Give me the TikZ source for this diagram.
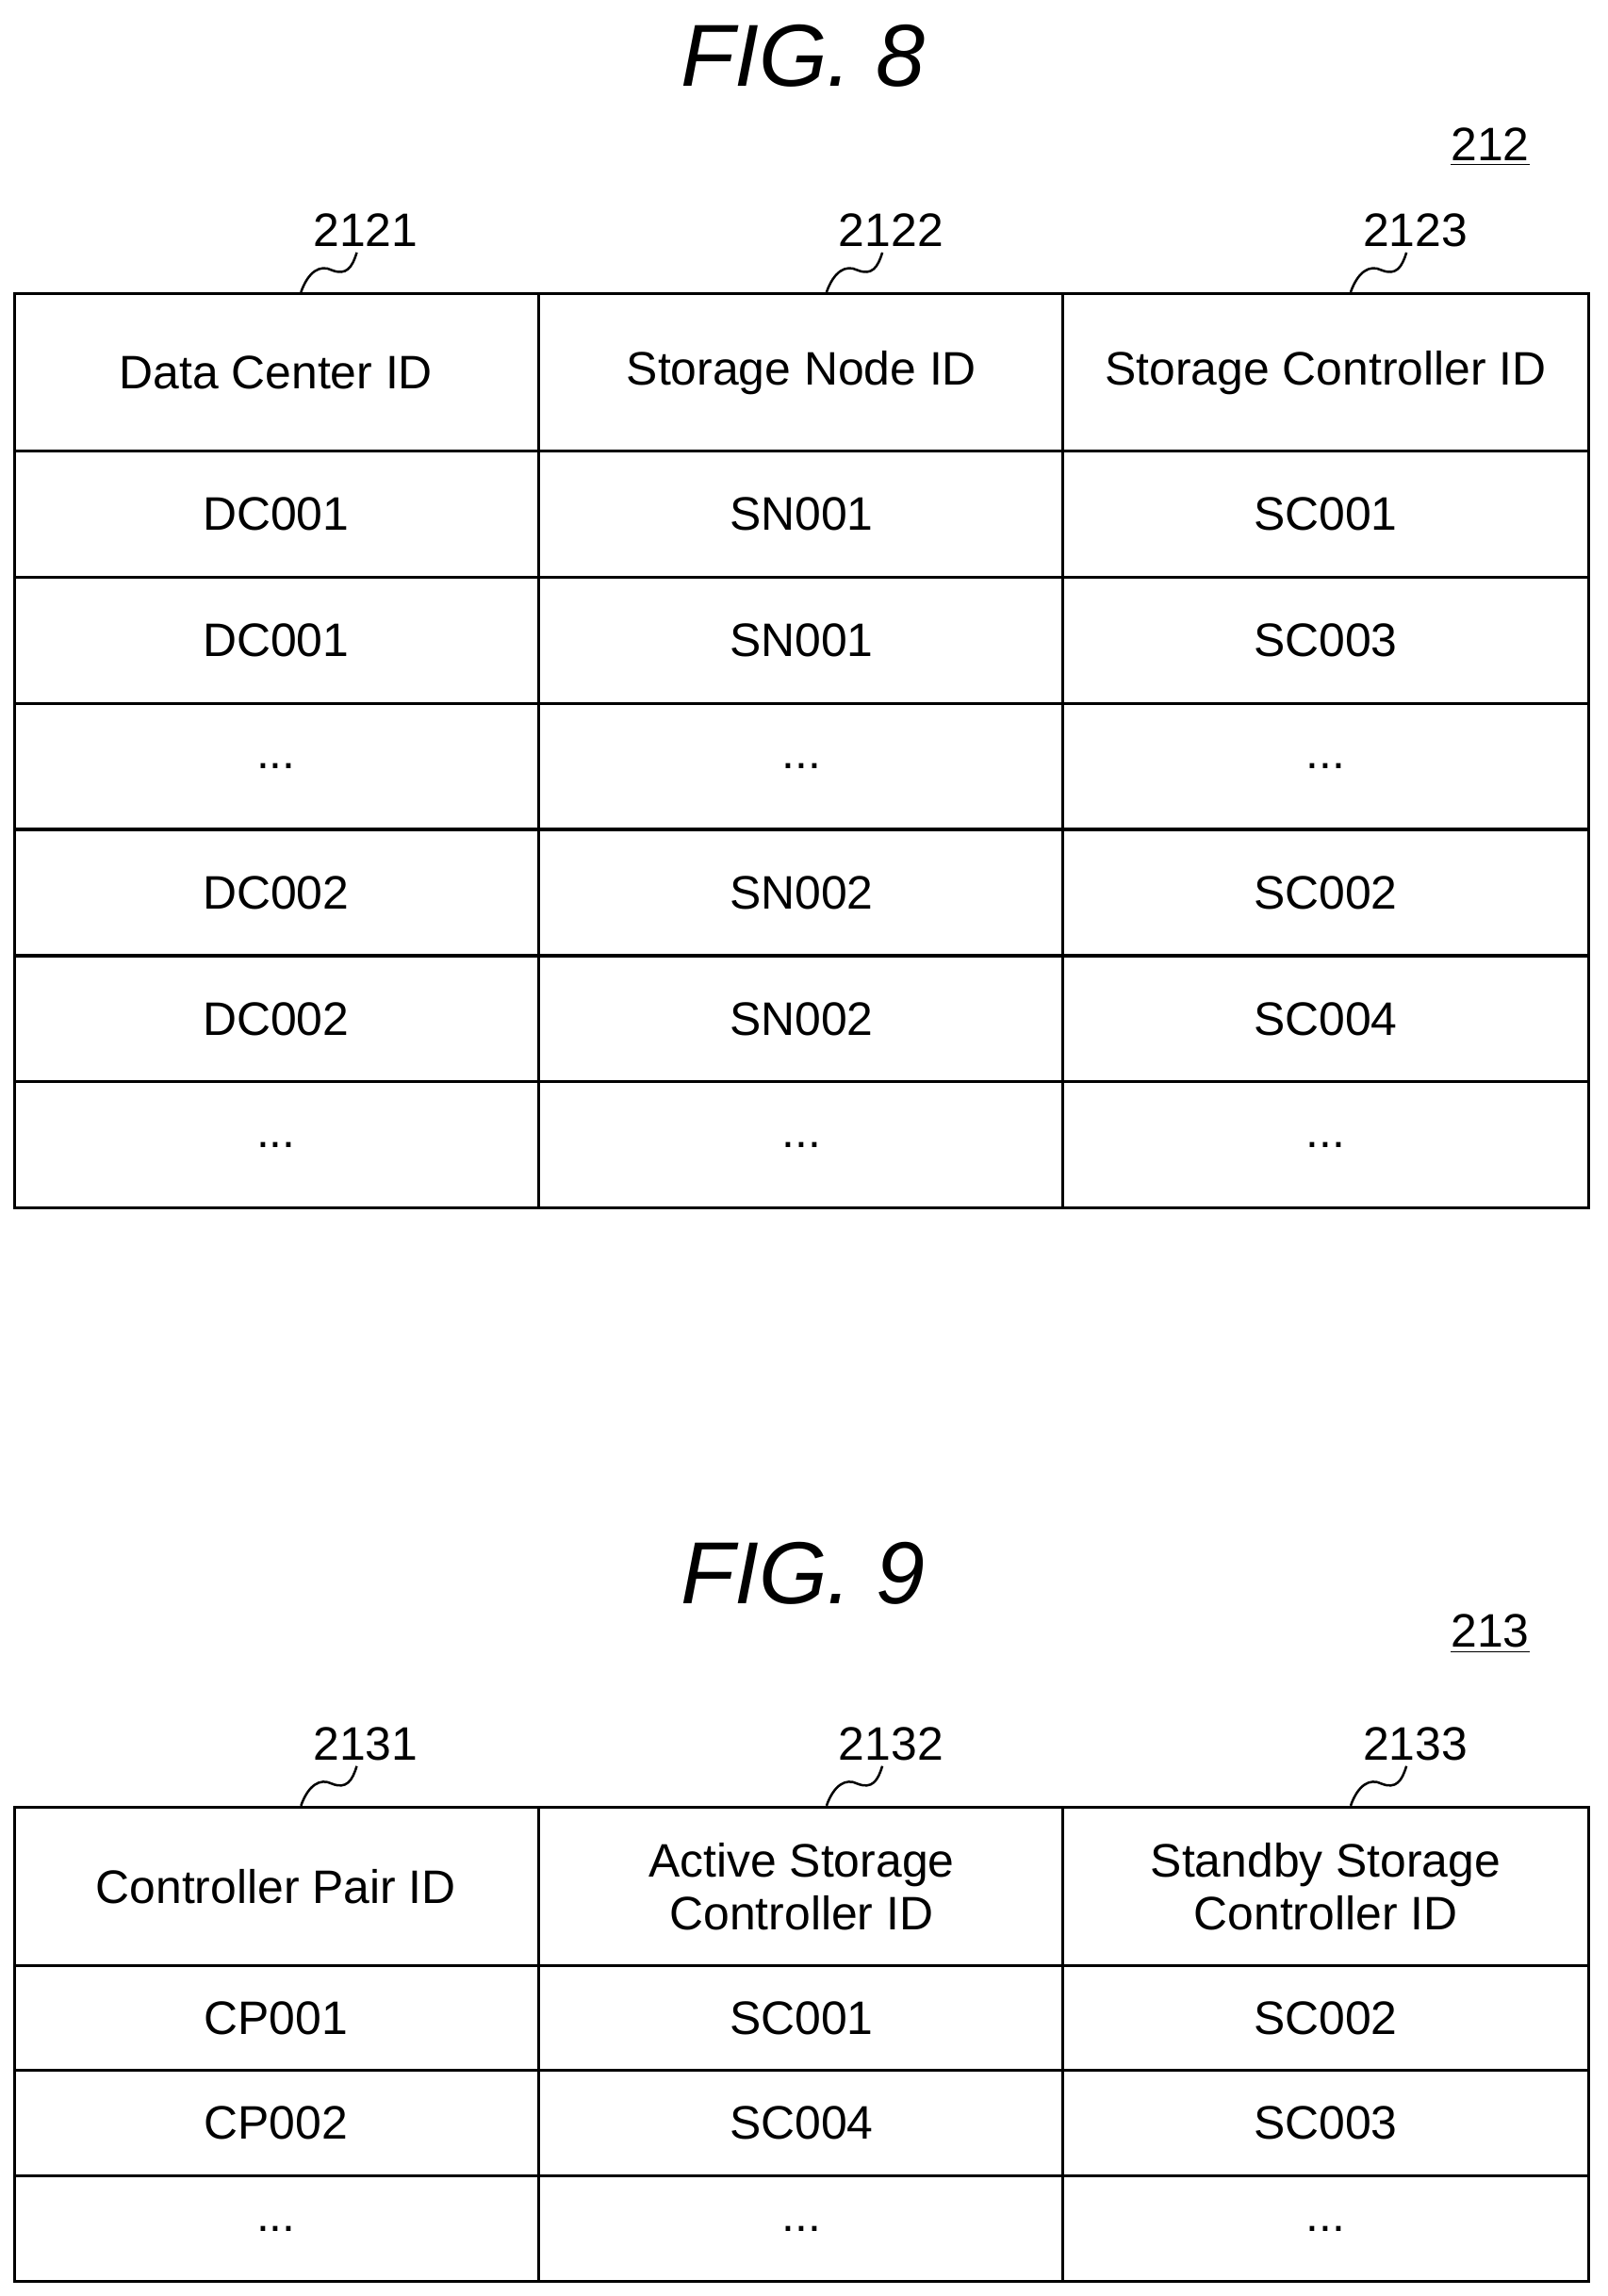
\documentclass[tikz,border=0pt]{standalone}
\usepackage{fontspec}
\setmainfont{Liberation Sans}
\newcommand\myell{...}
\begin{document}
\begin{tikzpicture}[x=0.5pt,y=-0.5pt,
  grid/.style={line width=1pt},
  cell/.style={font=\fontsize{16}{18}\selectfont,align=center,inner sep=0pt},
  ref/.style={font=\fontsize{16}{18}\selectfont,inner sep=0pt},
  fig/.style={font=\fontsize{30}{34}\selectfont\itshape,inner sep=0pt},
  sq/.style={line width=0.8pt}]
\useasboundingbox (0,0) rectangle (1095,1564);
% FIG 8
\node[fig] (f8) at (547,38) {FIG. 8};
\node[ref] (r212) at (1015,100) {\underline{212}};
\draw[grid] (10,200) rectangle (1082,823);
\foreach \x in {367,724} \draw[grid] (\x,200) -- (\x,823);
\foreach \y in {307,393,479,565,651,737} \draw[grid] (10,\y) -- (1082,\y);
\foreach \cx/\lab/\n in {188/2121/a,546/2122/b,903/2123/c}{
  \node[ref] (l\n) at (\cx+61,157) {\lab};
  \coordinate (s\n) at (\cx+17,199);
  \draw[sq] (s\n) .. controls (\cx+22,185) and (\cx+30,180) .. (\cx+38,184) .. controls (\cx+48,188) and (\cx+52,182) .. (\cx+55,172);
}
\node[cell] at (188,254) {Data Center ID};
\node[cell] at (546,254) {Storage Node ID};
\node[cell] at (903,254) {Storage Controller ID};
\foreach \y/\a/\b/\c in {350/DC001/SN001/SC001,436/DC001/SN001/SC003,522/\myell/\myell/\myell,608/DC002/SN002/SC002,694/DC002/SN002/SC004,780/\myell/\myell/\myell}{
  \node[cell] at (188,\y) {\a};
  \node[cell] at (546,\y) {\b};
  \node[cell] at (903,\y) {\c};
}
% FIG 9
\node[fig] (f9) at (547,1072) {FIG. 9};
\node[ref] (r213) at (1015,1113) {\underline{213}};
\draw[grid] (10,1231) rectangle (1082,1554);
\foreach \x in {367,724} \draw[grid] (\x,1231) -- (\x,1554);
\foreach \y in {1339,1410,1482} \draw[grid] (10,\y) -- (1082,\y);
\foreach \cx/\lab/\n in {188/2131/d,546/2132/e,903/2133/f}{
  \node[ref] (l\n) at (\cx+61,1188) {\lab};
  \coordinate (s\n) at (\cx+17,1230);
  \draw[sq] (s\n) .. controls (\cx+22,1216) and (\cx+30,1211) .. (\cx+38,1215) .. controls (\cx+48,1219) and (\cx+52,1213) .. (\cx+55,1203);
}
\node[cell] at (188,1285) {Controller Pair ID};
\node[cell] at (546,1285) {Active Storage\\Controller ID};
\node[cell] at (903,1285) {Standby Storage\\Controller ID};
\foreach \y/\a/\b/\c in {1375/CP001/SC001/SC002,1446/CP002/SC004/SC003,1518/\myell/\myell/\myell}{
  \node[cell] at (188,\y) {\a};
  \node[cell] at (546,\y) {\b};
  \node[cell] at (903,\y) {\c};
}
\end{tikzpicture}
\end{document}
